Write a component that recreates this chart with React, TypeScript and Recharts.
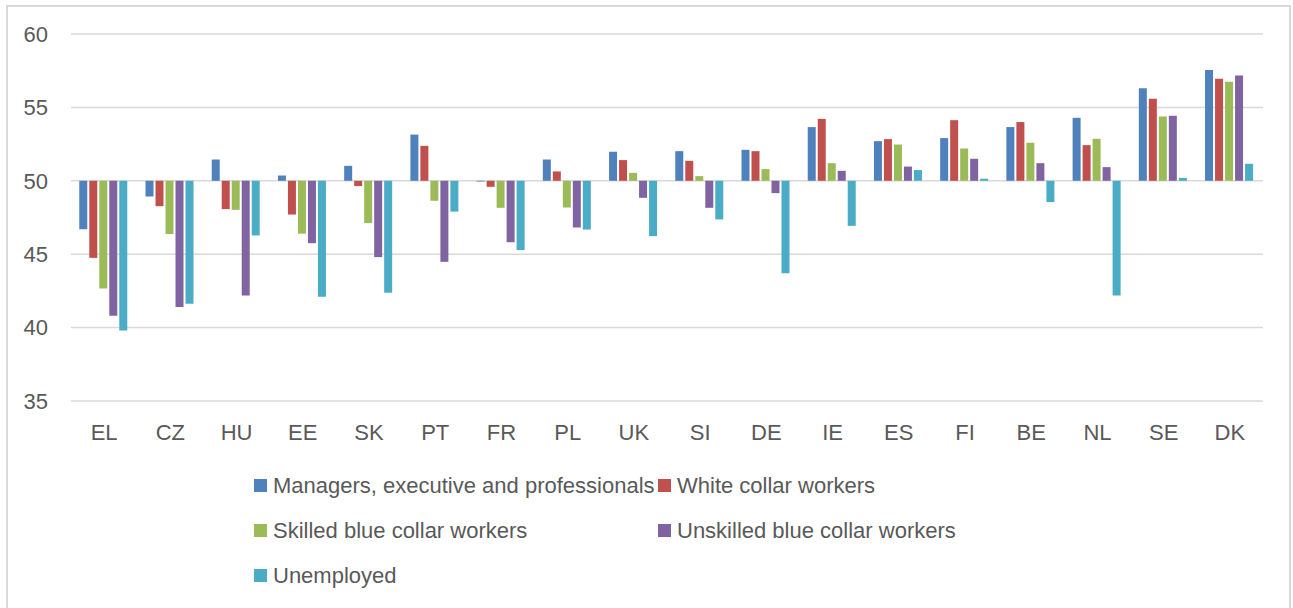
import React from "react";
import { BarChart, Bar, XAxis, YAxis, CartesianGrid, Legend } from "recharts";

// Country codes along the horizontal axis
const countries = ["EL", "CZ", "HU", "EE", "SK", "PT", "FR", "PL", "UK", "SI", "DE", "IE", "ES", "FI", "BE", "NL", "SE", "DK"];

// Index values per occupational group (bars grow from the 50 line)
const managers = [46.7, 48.93, 51.45, 50.36, 51.02, 53.15, 49.95, 51.45, 51.98, 52.02, 52.11, 53.66, 52.7, 52.91, 53.66, 54.29, 56.31, 57.54];
const whiteCollar = [44.75, 48.27, 48.07, 47.7, 49.64, 52.38, 49.59, 50.64, 51.41, 51.36, 52.02, 54.22, 52.84, 54.13, 54.0, 52.43, 55.59, 56.95];
const skilledBlue = [42.67, 46.37, 48.02, 46.4, 47.12, 48.64, 48.16, 48.18, 50.54, 50.32, 50.8, 51.2, 52.47, 52.2, 52.59, 52.86, 54.38, 56.74];
const unskilledBlue = [40.8, 41.4, 42.19, 45.75, 44.8, 44.48, 45.82, 46.82, 48.84, 48.16, 49.16, 50.68, 50.97, 51.5, 51.2, 50.93, 54.43, 57.17];
const unemployed = [39.8, 41.62, 46.28, 42.1, 42.37, 47.9, 45.28, 46.68, 46.23, 47.37, 43.71, 46.93, 50.73, 50.14, 48.55, 42.19, 50.2, 51.16];

const yTicks = [35, 40, 45, 50, 55, 60];
const BASE = 50;

const series = [
  { key: "managers", name: "Managers, executive and professionals", color: "#4F81BD", values: managers },
  { key: "whiteCollar", name: "White collar workers", color: "#C0504D", values: whiteCollar },
  { key: "skilledBlue", name: "Skilled blue collar workers", color: "#9BBB59", values: skilledBlue },
  { key: "unskilledBlue", name: "Unskilled blue collar workers", color: "#8064A2", values: unskilledBlue },
  { key: "unemployed", name: "Unemployed", color: "#4BACC6", values: unemployed },
];

const rows = countries.map((country, i) => {
  const row: Record<string, string | number> = { country };
  series.forEach((s) => {
    row[s.key] = s.values[i];
  });
  return row;
});

const FONT = '"Liberation Sans", Arial, sans-serif';
const FONT_SIZE = 22;
const TEXT = "#595959";

// Two-column legend, items in series order
const LegendGrid = () => (
  <div
    style={{
      display: "grid",
      gridTemplateColumns: "404px 404px",
      gridAutoRows: "44.8px",
      fontFamily: FONT,
      fontSize: FONT_SIZE,
      color: TEXT,
    }}
  >
    {series.map((s) => (
      <div key={s.key} style={{ display: "flex", alignItems: "center", whiteSpace: "nowrap" }}>
        <span style={{ width: 13, height: 13, background: s.color, display: "inline-block", marginRight: 6, flex: "none" }} />
        <span>{s.name}</span>
      </div>
    ))}
  </div>
);

export default function App() {
  return (
    <div style={{ position: "absolute", left: 0, top: 0, width: 1293, height: 608, background: "#fff", overflow: "hidden" }}>
      <div
        style={{
          position: "absolute",
          left: 6,
          top: 5,
          width: 1285,
          height: 620,
          border: "2px solid #d9d9d9",
          boxSizing: "border-box",
        }}
      />
      <div style={{ position: "absolute", left: 0, top: 0 }}>
        <BarChart
          width={1293}
          height={608}
          data={rows}
          margin={{ top: 34, right: 30, bottom: 167, left: 0 }}
          barCategoryGap="12.5%"
          barGap={2}
        >
          <CartesianGrid vertical={false} stroke="#d9d9d9" strokeWidth={1.5} />
          <XAxis
            dataKey="country"
            axisLine={false}
            tickLine={false}
            height={40}
            tickMargin={17}
            interval={0}
            tick={{ fontFamily: FONT, fontSize: FONT_SIZE, fill: TEXT }}
          />
          <YAxis
            domain={[35, 60]}
            ticks={yTicks}
            allowDataOverflow
            axisLine={false}
            tickLine={false}
            width={71}
            tickMargin={17}
            tick={{ fontFamily: FONT, fontSize: FONT_SIZE, fill: TEXT }}
          />
          <Legend
            layout="horizontal"
            verticalAlign="middle"
            align="center"
            wrapperStyle={{ left: 254, top: 463.6, width: 820 }}
            content={<LegendGrid />}
          />
          {series.map((s) => (
            <Bar
              key={s.key}
              name={s.name}
              dataKey={(d: any) => [BASE, d[s.key]]}
              fill={s.color}
              isAnimationActive={false}
            />
          ))}
        </BarChart>
      </div>
    </div>
  );
}
